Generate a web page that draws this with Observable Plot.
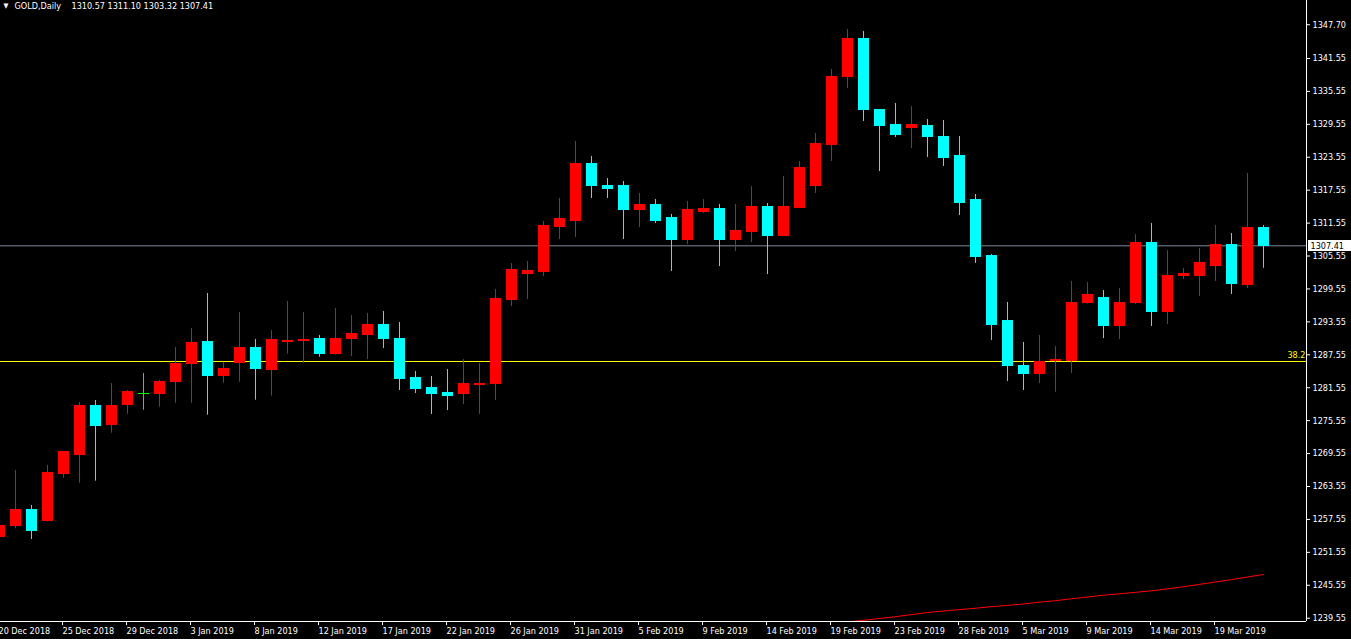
<!DOCTYPE html>
<html><head><meta charset="utf-8">
<script src="https://cdn.jsdelivr.net/npm/d3@7"></script>
<script src="https://cdn.jsdelivr.net/npm/@observablehq/plot@0.6"></script>
<style>
html,body{margin:0;padding:0;background:#000;}
#chart{width:1351px;height:639px;overflow:hidden;}
</style></head><body><div id="chart"></div>
<script>
// ---- data ----
const symbol = "GOLD,Daily";
const firstBar = -1; // first (partially visible) bar index
const opens  = [1254.31,1256.32,1259.18,1257.23,1265.79,1269.25,1278.13,1274.72,1278.37,1280.44,
  1280.37,1282.56,1285.84,1289.97,1283.65,1286.02,1288.88,1284.87,1289.95,1290.03,
  1290.34,1287.66,1290.34,1291.07,1293.07,1290.52,1283.41,1281.59,1280.50,1280.32,
  1282.05,1282.14,1297.45,1302.36,1302.55,1310.93,1312.02,1322.41,1318.40,1318.22,
  1313.85,1314.76,1312.39,1308.56,1313.66,1314.21,1308.38,1309.84,1314.57,1309.29,
  1314.39,1318.40,1325.87,1338.26,1345.01,1332.07,1329.51,1328.79,1329.33,1327.33,
  1323.69,1315.67,1305.64,1293.62,1285.60,1284.14,1286.33,1286.51,1296.90,1297.81,
  1292.71,1296.90,1308.01,1295.44,1301.82,1302.00,1303.82,1307.65,1300.36,1310.57];
const highs  = [1256.80,1266.47,1260.09,1267.38,1269.93,1278.86,1279.22,1282.32,1281.05,1284.14,
  1282.86,1288.88,1292.34,1298.72,1286.20,1295.26,1290.34,1291.98,1297.26,1295.26,
  1291.07,1295.99,1294.71,1295.08,1295.44,1293.44,1284.51,1283.60,1284.87,1286.69,
  1285.96,1299.45,1304.19,1304.55,1311.84,1316.03,1326.42,1323.69,1319.68,1319.13,
  1316.94,1315.85,1313.12,1315.48,1315.85,1314.94,1314.94,1318.22,1315.12,1320.04,
  1322.77,1327.88,1339.54,1346.83,1346.47,1332.25,1333.34,1332.80,1330.43,1330.25,
  1327.33,1316.76,1305.82,1297.08,1289.79,1291.07,1289.06,1300.91,1300.73,1299.27,
  1299.63,1309.47,1311.48,1306.55,1303.28,1306.92,1311.11,1309.65,1320.59,1311.10];
const lows   = [1253.90,1255.84,1253.89,1257.10,1265.06,1264.15,1264.52,1273.26,1276.72,1277.45,
  1278.00,1278.73,1278.73,1276.54,1282.37,1282.56,1279.28,1280.01,1287.66,1286.02,
  1287.11,1287.50,1287.24,1286.69,1288.70,1281.04,1280.50,1276.67,1277.40,1278.49,
  1276.67,1279.22,1296.35,1297.63,1301.82,1308.56,1308.93,1316.03,1316.03,1308.56,
  1310.75,1311.48,1302.73,1307.65,1313.30,1303.64,1306.37,1308.01,1302.18,1309.20,
  1314.30,1316.94,1322.77,1336.08,1330.06,1320.95,1327.15,1325.14,1323.50,1321.86,
  1312.93,1304.19,1290.16,1282.68,1281.04,1282.32,1280.73,1284.14,1296.80,1290.52,
  1290.34,1296.72,1292.71,1293.07,1301.27,1298.17,1300.91,1298.54,1299.63,1303.32];
const closes = [1256.44,1259.18,1255.53,1265.92,1269.75,1278.31,1274.54,1278.31,1280.86,1280.44,
  1282.68,1285.96,1289.79,1283.65,1285.05,1288.88,1284.93,1290.16,1290.15,1290.21,
  1287.66,1290.52,1291.25,1293.07,1290.34,1283.23,1281.23,1280.32,1280.13,1282.14,
  1282.23,1297.63,1303.09,1302.73,1311.11,1312.21,1322.41,1318.22,1317.85,1313.85,
  1314.76,1312.02,1308.56,1313.85,1314.03,1308.38,1310.02,1314.57,1309.29,1314.57,
  1321.50,1326.05,1338.26,1345.01,1332.07,1329.33,1327.69,1329.51,1327.15,1323.50,
  1315.30,1305.46,1293.07,1285.42,1284.14,1286.15,1286.64,1297.08,1298.36,1292.71,
  1297.08,1308.01,1295.44,1301.82,1302.36,1304.19,1307.65,1300.54,1310.57,1307.41];

// moving-average line (red), starting at bar maStart
const maStart = 52;
const maValues = [1238.85,1239.17,1239.50,1239.82,1240.21,1240.59,1240.86,1241.12,1241.37,1241.65,
  1241.88,1242.14,1242.48,1242.74,1243.09,1243.41,1243.74,1244.00,1244.27,1244.54,
  1244.89,1245.29,1245.71,1246.15,1246.58,1247.06,1247.51];

const dateLabels = ["20 Dec 2018","25 Dec 2018","29 Dec 2018","3 Jan 2019","8 Jan 2019","12 Jan 2019",
  "17 Jan 2019","22 Jan 2019","26 Jan 2019","31 Jan 2019","5 Feb 2019","9 Feb 2019","14 Feb 2019",
  "19 Feb 2019","23 Feb 2019","28 Feb 2019","5 Mar 2019","9 Mar 2019","14 Mar 2019","19 Mar 2019"];
const barsPerDateLabel = 4;

const yTickValues = [1347.70,1341.55,1335.55,1329.55,1323.55,1317.55,1311.55,1305.55,1299.55,1293.55,
  1287.55,1281.55,1275.55,1269.55,1263.55,1257.55,1251.55,1245.55,1239.55];

const fibLevel = 1286.33;
const fibLabel = "38.2";

// ---- build ----
const bars = opens.map((o, j) => ({i: firstBar + j, open: o, high: highs[j], low: lows[j], close: closes[j]}));
bars.forEach(b => b.color = b.close > b.open ? "#ff0000" : b.close < b.open ? "#00ffff" : "#00ff00");
const last = bars[bars.length - 1];
const ma = maValues.map((v, j) => ({i: maStart + j, v}));
const tickBars = dateLabels.map((_, j) => firstBar + j * barsPerDateLabel);
const labelByBar = new Map(tickBars.map((b, j) => [b, dateLabels[j]]));

const W = 1351, H = 639, mR = 45, mB = 18;
const xMin = -15 / 16, xMax = (W - mR - 15) / 16;
const yPx = 5.4875, yRef = 1239.55, yRefPx = 617.7;
const yMin = yRef - (H - mB - yRefPx) / yPx, yMax = yRef + yRefPx / yPx;

const font = "'DejaVu Sans Condensed', 'Liberation Sans', Arial, sans-serif";

const chart = Plot.plot({
  width: W, height: H,
  marginLeft: 0, marginRight: mR, marginTop: 0, marginBottom: mB,
  style: {background: "#000", color: "#fff", fontFamily: font, fontSize: "9px"},
  x: {domain: [xMin, xMax], axis: null, label: null},
  y: {domain: [yMin, yMax], axis: null, label: null},
  marks: [
    Plot.ruleY([last.close], {stroke: "#778899"}),
    Plot.ruleY([fibLevel], {stroke: "#ffff00"}),
    Plot.line(ma, {x: "i", y: "v", stroke: "#ff0000", strokeWidth: 1, clip: true}),
    Plot.ruleX(bars, {x: "i", y1: "low", y2: "high", stroke: "color"}),
    Plot.rect(bars, {x1: d => d.i - 5/16, x2: d => d.i + 6/16, y1: "open", y2: "close",
      fill: "color", insetTop: -0.5, insetBottom: -0.5, shapeRendering: "crispEdges"}),
    Plot.ruleX([xMax], {stroke: "#fff"}),
    Plot.ruleY([yMin], {stroke: "#fff"}),
    Plot.axisY(yTickValues, {anchor: "right", tickSize: 3, tickPadding: 3, label: null,
      tickFormat: d => d.toFixed(2), fill: "#fff", stroke: "#fff"}),
    Plot.axisX(tickBars, {anchor: "bottom", tickSize: 4, tickPadding: 2, label: null,
      tickFormat: d => labelByBar.get(d), textAnchor: "start", dx: -1, fill: "#fff", stroke: "#fff"}),
    Plot.text([fibLevel], {x: () => xMax, y: d => d, text: () => fibLabel, textAnchor: "end",
      dx: -1, dy: -6, fill: "#ffff00"}),
    // current price label box on the axis
    Plot.rect([last.close], {x1: () => xMax, x2: () => xMax + 3, y1: d => d, y2: d => d,
      insetLeft: 2, insetTop: -5.5, insetBottom: -5.5, fill: "#fff", shapeRendering: "crispEdges"}),
    Plot.text([last.close], {x: () => xMax, y: d => d, text: d => d.toFixed(2), textAnchor: "start",
      dx: 4, fill: "#000"}),
    Plot.text(["▼"], {frameAnchor: "top-left", dx: 3, dy: 3, fill: "#fff", fontSize: 7}),
    Plot.text([symbol], {frameAnchor: "top-left", dx: 14, dy: 2, fill: "#fff"}),
    Plot.text([[last.open, last.high, last.low, last.close].map(v => v.toFixed(2)).join(" ")],
      {frameAnchor: "top-left", dx: 71, dy: 2, fill: "#fff"})
  ]
});
document.getElementById("chart").appendChild(chart);
</script></body></html>
